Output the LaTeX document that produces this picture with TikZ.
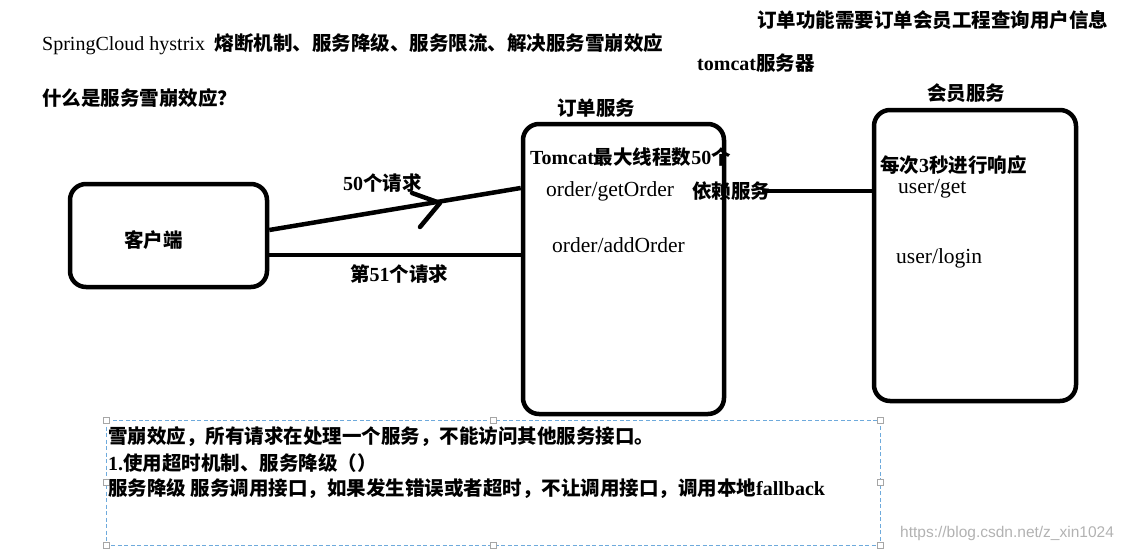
\documentclass[tikz,border=0pt]{standalone}
\usepackage{fontspec}
\setmainfont{Liberation Serif}
\newfontfamily\cjk{Noto Sans CJK SC}[Scale=0.975]
\newfontfamily\wmfont{Liberation Sans}
\begin{document}
\begin{tikzpicture}[x=1pt,y=-1pt,
  txt/.style={anchor=west,inner sep=0pt,font=\fontsize{20}{24}\selectfont},
  reg/.style={anchor=west,inner sep=0pt,font=\fontsize{21.5}{24}\selectfont},
  box/.style={draw,line width=4.5pt,rounded corners=16pt,minimum width=#1,inner sep=0pt},
  conn/.style={line width=4.5pt},
  handle/.style={draw=gray!70,fill=white,line width=0.6pt,minimum size=6pt,inner sep=0pt}]
\useasboundingbox (0,0) rectangle (1130,552);
% boxes
\node[box=197pt,minimum height=103pt] (client) at (168.5,235.5) {};
\node[box=201pt,minimum height=290pt] (order) at (623.5,269) {};
\node[box=202pt,minimum height=291pt] (member) at (975,255.5) {};
% titles
\node[txt] (t1) at (42,44) {SpringCloud hystrix\ \ {\cjk\bfseries 熔断机制、服务降级、服务限流、解决服务雪崩效应}};
\node[txt] (t2) at (42,98) {\cjk\bfseries 什么是服务雪崩效应？};
\node[txt] (t3) at (697,63) {\bfseries tomcat{\cjk 服务器}};
\node[txt] (t4) at (757,20) {\cjk\bfseries 订单功能需要订单会员工程查询用户信息};
\node[txt] (t5) at (557,108) {\cjk\bfseries 订单服务};
\node[txt] (t6) at (927,93) {\cjk\bfseries 会员服务};
% inside order
\node[txt] (tc) at (530,157) {\bfseries Tomcat{\cjk 最大线程数}50{\cjk 个}};
\node[reg] (go) at (546,191) {order/getOrder};
\node[txt] (dep) at (692,191) {\cjk\bfseries 依赖服务};
\node[reg] (ao) at (552,245) {order/addOrder};
% client
\node[txt] (kh) at (124,240) {\cjk\bfseries 客户端};
% member
\node[txt] (m1) at (880,165) {\bfseries{\cjk 每次}3{\cjk 秒进行响应}};
\node[reg] (ug) at (898,189) {user/get};
\node[reg] (ul) at (896,258) {user/login};
% connectors
\draw[conn] ([yshift=5.5pt]client.east) -- ([yshift=81pt]order.west);
\draw[conn,line cap=round,line join=round] (412,193) -- (440,203) -- (420,227);
\draw[conn] ([yshift=-19.5pt]client.east) -- ([yshift=14pt]order.west);
\draw[conn] ([xshift=-8pt]dep.east) -- (member.west |- dep.east);
\node[txt] (l1) at (343,183) {\bfseries 50{\cjk 个请求}};
\node[txt] (l2) at (350,274) {\bfseries{\cjk 第}51{\cjk 个请求}};
% dashed text box
\draw[draw={rgb,255:red,110;green,170;blue,220},dash pattern=on 4pt off 2.5pt,line width=0.8pt] (106,420) rectangle (880,545);
\foreach \p/\q in {106/420,493/420,880/420,106/482,880/482,106/545,493/545,880/545}
  \node[handle] at (\p,\q) {};
\node[txt] (b1) at (108,437) {\cjk\bfseries 雪崩效应，所有请求在处理一个服务，不能访问其他服务接口。};
\node[txt] (b2) at (108,463) {\bfseries 1.{\cjk 使用超时机制、服务降级（）}};
\node[txt] (b3) at (108,489) {\bfseries{\cjk 服务降级 服务调用接口，如果发生错误或者超时，不让调用接口，调用本地}fallback};
\node[anchor=west,inner sep=0pt,text=gray!60,font=\wmfont\fontsize{15.5}{18}\selectfont] (wm) at (900,533) {https://blog.csdn.net/z\_xin1024};
\end{tikzpicture}
\end{document}
